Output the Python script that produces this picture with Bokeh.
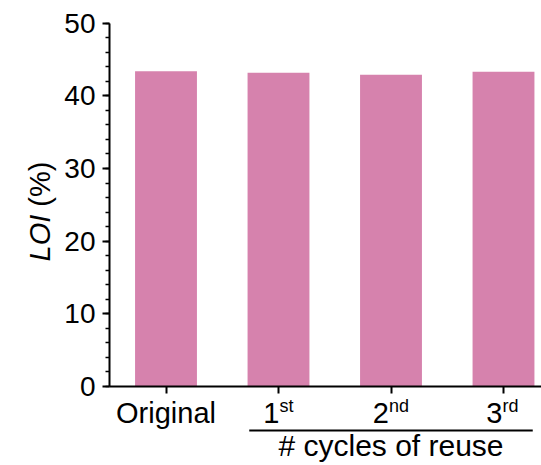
import math
from bokeh.plotting import figure
from bokeh.models import Range1d, FixedTicker, SingleIntervalTicker, Label
from bokeh.embed import file_html
from bokeh.resources import INLINE

# ---- data ----
categories = ["Original", "1", "2", "3"]
superscripts = ["", "st", "nd", "rd"]
loi = [43.39, 43.17, 42.90, 43.31]
y_ticks = [0, 10, 20, 30, 40, 50]
group_label = "# cycles of reuse"
y_title_italic = "LOI"
y_title_unit = "(%)"

# ---- layout / style ----
FONT = "Liberation Sans"
BAR_COLOR = "#D682AD"
W, H = 541, 465
AXIS_PX_X = 109       # y axis position (pixels from left)
ZERO_PX_Y = 386       # x axis position (pixels from top)
px_per_x = 112.5
px_per_y = (ZERO_PX_Y - 22.7) / 50
FIRST_CENTER_PX = 165.5
BASE_FIX = 0.34       # correction: label anchor vs. actual glyph baseline (em)

x_start = -FIRST_CENTER_PX / px_per_x
x_end = x_start + W / px_per_x
y_end = ZERO_PX_Y / px_per_y
y_start = -(H - ZERO_PX_Y) / px_per_y

def X(px):
    return x_start + px / px_per_x

def Y(py):
    return (ZERO_PX_Y - py) / px_per_y

def Yb(py, fs):
    """anchor for a text whose baseline should sit at pixel row py"""
    return Y(py - BASE_FIX * fs)

p = figure(frame_width=W, frame_height=H,
           x_range=Range1d(x_start, x_end), y_range=Range1d(y_start, y_end),
           min_border=0, min_border_left=0, min_border_right=0,
           min_border_top=0, min_border_bottom=0,
           output_backend="svg", toolbar_location=None)
p.outline_line_color = None
p.grid.visible = False
p.background_fill_color = "white"
p.border_fill_color = "white"

xs = list(range(len(categories)))
p.vbar(x=xs, top=loi, width=0.55, bottom=0, fill_color=BAR_COLOR, line_color=None)

# y axis
ya = p.yaxis[0]
ya.fixed_location = X(AXIS_PX_X)
ya.bounds = (y_ticks[0], y_ticks[-1])
ya.ticker = SingleIntervalTicker(interval=10, num_minor_ticks=5)
ya.axis_line_width = 2
ya.major_tick_line_width = 2
ya.minor_tick_line_width = 1.5
ya.major_tick_out = 7
ya.major_tick_in = 0
ya.minor_tick_out = 4
ya.minor_tick_in = 0
ya.major_label_text_font = FONT
ya.major_label_text_font_size = "28px"
ya.major_label_text_color = "black"
ya.major_label_standoff = 7

# x axis
xa = p.xaxis[0]
xa.fixed_location = 0
xa.bounds = (X(AXIS_PX_X), x_end)
xa.ticker = FixedTicker(ticks=xs, minor_ticks=[])
xa.axis_line_width = 2
xa.major_tick_line_width = 2
xa.major_tick_out = 7
xa.major_tick_in = 0
xa.major_label_overrides = {i: "" for i in xs}

# x tick labels (with superscripts)
FS_MAIN, FS_SUP = 29, 18
base_y = Yb(422.5, FS_MAIN)
sup_y = Yb(412.0, FS_SUP)
sup_shift = {"": 0, "st": 1, "nd": -2, "rd": -1}
for x, cat, sup in zip(xs, categories, superscripts):
    if not sup:
        p.add_layout(Label(x=x, y=base_y, text=cat, text_align="center",
                           text_baseline="alphabetic", text_font=FONT,
                           text_font_size=f"{FS_MAIN}px", text_color="black"))
    else:
        off = sup_shift[sup]
        p.add_layout(Label(x=x, y=base_y, x_offset=off, text=cat, text_align="right",
                           text_baseline="alphabetic", text_font=FONT,
                           text_font_size=f"{FS_MAIN}px", text_color="black"))
        p.add_layout(Label(x=x, y=sup_y, x_offset=off, text=sup, text_align="left",
                           text_baseline="alphabetic", text_font=FONT,
                           text_font_size=f"{FS_SUP}px", text_color="black"))

# group bracket and label
p.segment(x0=[1 - 0.26], x1=[3 + 0.26], y0=[Y(430)], y1=[Y(430)],
          line_width=2, line_color="black")
FS_GROUP = 30
p.add_layout(Label(x=2, y=Yb(455, FS_GROUP), text=group_label, text_align="center",
                   text_baseline="alphabetic", text_font=FONT,
                   text_font_size=f"{FS_GROUP}px", text_color="black"))

# y axis title: italic LOI + (%)
YT_SIZE = 29
lab_x = X(49 - BASE_FIX * YT_SIZE)
lab_y0 = Y(261)
loi_w = (1.612 + 0.278) * YT_SIZE
p.add_layout(Label(x=lab_x, y=lab_y0, text=y_title_italic, angle=math.pi / 2,
                   text_align="left", text_baseline="alphabetic",
                   text_font=FONT, text_font_style="italic",
                   text_font_size=f"{YT_SIZE}px", text_color="black"))
p.add_layout(Label(x=lab_x, y=lab_y0 + loi_w / px_per_y, text=y_title_unit, angle=math.pi / 2,
                   text_align="left", text_baseline="alphabetic",
                   text_font=FONT, text_font_size=f"{YT_SIZE}px", text_color="black"))

open("out.html", "w").write(file_html(p, INLINE))
